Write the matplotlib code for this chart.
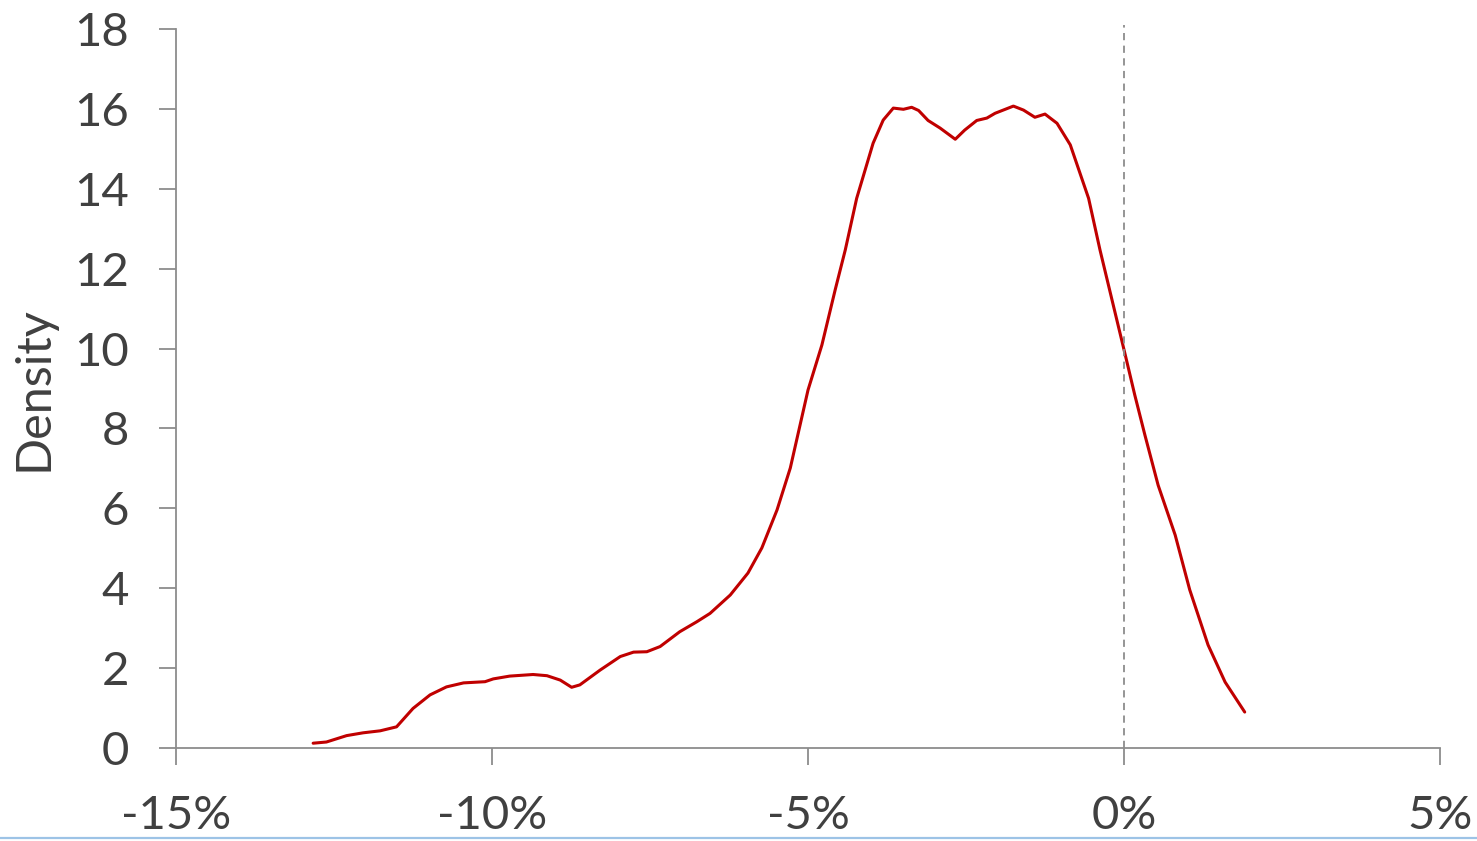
import matplotlib
matplotlib.use("Agg")
import matplotlib.pyplot as plt
from matplotlib.lines import Line2D
from matplotlib.ticker import FuncFormatter

# Data (x in %, density)
x_pct = [-12.83, -12.62, -12.30, -12.04, -11.77, -11.51, -11.25, -10.98, -10.72, -10.45,
         -10.11, -9.98, -9.72, -9.35, -9.13, -8.92, -8.74, -8.61, -8.29, -7.97,
         -7.76, -7.55, -7.34, -7.03, -6.76, -6.55, -6.23, -5.95, -5.73, -5.49,
         -5.28, -5.00, -4.78, -4.57, -4.41, -4.23, -3.97, -3.81, -3.65, -3.49,
         -3.36, -3.25, -3.10, -2.91, -2.67, -2.52, -2.33, -2.17, -2.04, -1.75,
         -1.59, -1.41, -1.25, -1.06, -0.85, -0.56, -0.38, -0.19, 0.02, 0.17,
         0.33, 0.54, 0.81, 1.04, 1.33, 1.60, 1.91]
density = [0.12, 0.15, 0.31, 0.38, 0.43, 0.53, 0.99, 1.33, 1.53, 1.63,
           1.66, 1.73, 1.80, 1.84, 1.81, 1.70, 1.52, 1.58, 1.95, 2.29,
           2.40, 2.41, 2.54, 2.91, 3.16, 3.37, 3.83, 4.38, 5.01, 5.96,
           7.01, 8.96, 10.09, 11.47, 12.47, 13.76, 15.14, 15.72, 16.02, 15.99,
           16.04, 15.96, 15.71, 15.52, 15.24, 15.47, 15.71, 15.77, 15.89, 16.07,
           15.97, 15.79, 15.87, 15.64, 15.10, 13.76, 12.47, 11.22, 9.84, 8.84,
           7.84, 6.58, 5.33, 3.96, 2.58, 1.65, 0.90]
x_ticks = [-15, -10, -5, 0, 5]
y_ticks = [0, 2, 4, 6, 8, 10, 12, 14, 16, 18]
y_label = "Density"

plt.rcParams['font.family'] = ['Lato', 'DejaVu Sans']
text_color = '#404040'
axis_color = '#8c8c8c'

fig = plt.figure(figsize=(14.77, 8.41), dpi=100)
ax = fig.add_axes([176/1477, 1-748/841, (1440-176)/1477, (748-29)/841])

ax.plot(x_pct, density, color='#C00000', lw=2.2, solid_capstyle='round', solid_joinstyle='round')
ax.axvline(0, ymin=0, ymax=1.005, color='#8c8c8c', lw=1.3, ls=(0, (4, 3)), clip_on=False)

ax.set_xlim(-15, 5)
ax.set_ylim(0, 18)
ax.set_xticks(x_ticks)
ax.set_yticks(y_ticks)
ax.xaxis.set_major_formatter(FuncFormatter(lambda v, p: f"{int(v)}%"))

for s in ['top', 'right']:
    ax.spines[s].set_visible(False)
for s in ['left', 'bottom']:
    ax.spines[s].set_color(axis_color)
    ax.spines[s].set_linewidth(1.3)

ax.tick_params(axis='both', direction='out', length=12, width=1.3, color=axis_color,
               labelcolor=text_color, labelsize=34)
ax.tick_params(axis='x', pad=22)
ax.tick_params(axis='y', pad=22)
ax.set_ylabel(y_label, fontsize=35, color=text_color, labelpad=13)

fig.add_artist(Line2D([0, 1], [1-837.5/841, 1-837.5/841], transform=fig.transFigure,
                      color='#9DC3E6', lw=1.6))

fig.savefig('out.png', dpi=100, facecolor='white')
